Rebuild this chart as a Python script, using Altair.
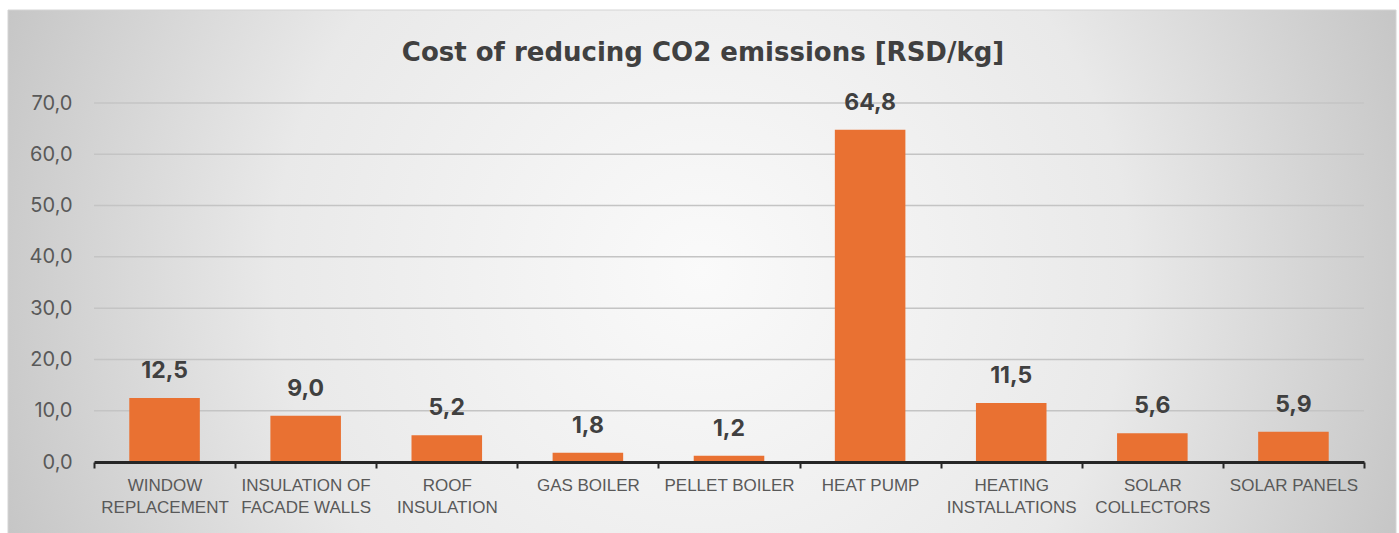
import altair as alt
import pandas as pd

categories = [
    "WINDOW\nREPLACEMENT",
    "INSULATION OF\nFACADE WALLS",
    "ROOF\nINSULATION",
    "GAS BOILER",
    "PELLET BOILER",
    "HEAT PUMP",
    "HEATING\nINSTALLATIONS",
    "SOLAR\nCOLLECTORS",
    "SOLAR PANELS",
]
values = [12.5, 9.0, 5.2, 1.8, 1.2, 64.8, 11.5, 5.6, 5.9]
y_ticks = [0, 10, 20, 30, 40, 50, 60, 70]
title_text = "Cost of reducing CO2 emissions [RSD/kg]"

df = pd.DataFrame({"measure": categories, "cost": values})
grid_df = pd.DataFrame({"tick": y_ticks[1:]})
one = pd.DataFrame({"k": [0]})

W, H = 1270, 359
y_scale = alt.Scale(domain=[0, 70], nice=False)
x_scale = alt.Scale(paddingInner=0, paddingOuter=0)

x_enc = alt.X(
    "measure:N",
    sort=categories,
    title=None,
    scale=x_scale,
    axis=alt.Axis(
        labelAngle=0,
        labelExpr="isValid(datum.value) ? split(datum.value, '\\n') : ''",
        labelFont="Liberation Sans",
        labelFontSize=17,
        labelColor="#595959",
        labelLineHeight=22,
        labelPadding=9,
        labelLimit=0,
        domainColor="#262626",
        domainWidth=3,
        tickColor="#262626",
        tickWidth=2,
        tickSize=6,
        tickBand="extent",
        grid=False,
        zindex=1,
    ),
)
y_enc = alt.Y(
    "cost:Q",
    title=None,
    scale=y_scale,
    axis=alt.Axis(
        values=y_ticks,
        labelExpr="replace(format(datum.value, '.1f'), '.', ',')",
        labelFont="Inter",
        labelFontSize=20,
        labelColor="#595959",
        labelPadding=22,
        domain=False,
        ticks=False,
        grid=False,
        zindex=1,
    ),
)

bg = alt.Chart(one).mark_rect(
    fill=alt.RadialGradient(
        gradient="radial",
        x1=0.5, y1=0.5, r1=0,
        x2=0.5, y2=0.5, r2=0.56,
        stops=[
            alt.GradientStop(offset=0, color="#fafafa"),
            alt.GradientStop(offset=0.55, color="#e9e9e9"),
            alt.GradientStop(offset=1, color="#c2c2c2"),
        ],
    ),
    stroke="#d4d4d4",
    strokeWidth=1,
).encode(
    x=alt.value(-86), x2=alt.value(1302),
    y=alt.value(-93), y2=alt.value(431),
)

grid = alt.Chart(grid_df).mark_rule(color="#c4c4c4", strokeWidth=1.5).encode(
    y=alt.Y("tick:Q", scale=y_scale),
    x=alt.value(0), x2=alt.value(W),
)

title = alt.Chart(one).mark_text(
    font="DejaVu Sans", fontSize=26, fontWeight="bold", color="#404040",
    align="center", baseline="alphabetic",
).encode(x=alt.value(609), y=alt.value(-42), text=alt.value(title_text))

bars = alt.Chart(df).mark_bar(
    color="#E97132", width=alt.RelativeBandSize(0.5)
).encode(x=x_enc, y=y_enc)

labels = alt.Chart(df).transform_calculate(
    lab="replace(format(datum.cost, '.1f'), '.', ',')"
).mark_text(
    font="Inter", fontSize=23, fontWeight="bold", color="#404040",
    dy=-20, baseline="alphabetic",
).encode(x=alt.X("measure:N", sort=categories, scale=x_scale), y="cost:Q", text="lab:N")

chart = alt.layer(bg, grid, bars, labels, title).properties(
    width=W, height=H,
    padding={"left": 94, "top": 103, "right": 35, "bottom": 71},
    autosize=alt.AutoSizeParams(type="none"),
    background="#ffffff",
).configure_view(stroke=None)

chart.save("out.html", embed_options={"renderer": "svg", "actions": False})
